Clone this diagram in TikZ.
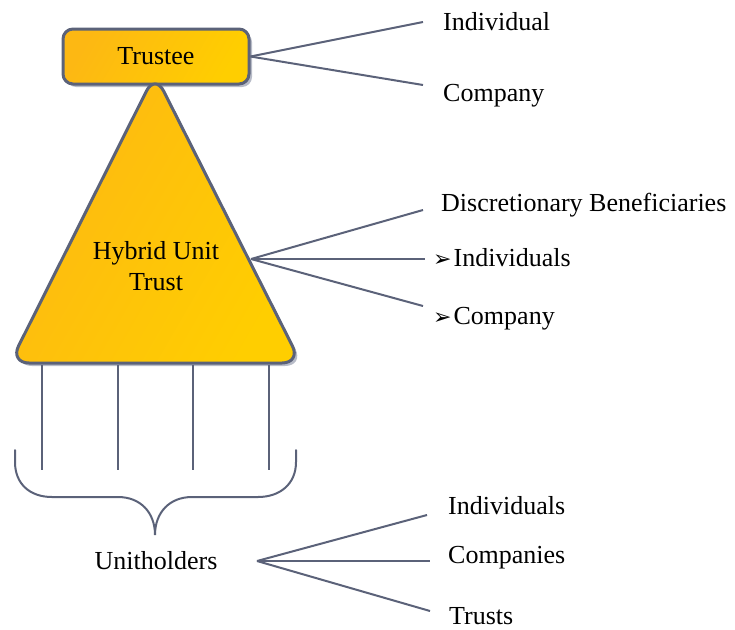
\documentclass[tikz,border=0pt]{standalone}
\usepackage{fontspec}
\setmainfont{Liberation Serif}
\newfontfamily\labelfont{Liberation Serif}
\newfontfamily\symfont{DejaVu Sans}
\usetikzlibrary{shadows}
\definecolor{edge}{RGB}{91,98,121}
\definecolor{goldA}{RGB}{253,184,19}
\definecolor{goldB}{RGB}{255,206,0}
\definecolor{shade}{RGB}{184,188,200}
\newcommand{\pointer}{{\symfont\fontsize{22}{26}\selectfont ➢}\kern2pt}
\tikzset{
  shape line/.style={draw=edge, line width=3pt, line join=round},
  gold fill/.style={left color=goldA, right color=goldB, shading angle=60},
  soft shadow/.style={drop shadow={shadow xshift=3pt, shadow yshift=-3pt, fill=shade, opacity=1}},
  link/.style={draw=edge, line width=2pt},
  label text/.style={font=\labelfont\fontsize{26}{31}\selectfont, inner sep=0pt},
}
\begin{document}
\begin{tikzpicture}[x=1pt, y=-1pt]
\useasboundingbox (0,0) rectangle (735,629);

% trustee box
\node[shape line, gold fill, soft shadow, rounded corners=10pt,
      minimum width=186pt, minimum height=55pt, label text] (trustee) at (156,56.5) {Trustee};

% the trust itself (started mid-base so that every corner is rounded)
\path[shape line, gold fill, soft shadow, rounded corners=19pt]
  (155,363) -- (301,363) -- (155,74) -- (10,363) -- cycle;
\node[label text, align=center] (hybrid) at (156,266) {Hybrid Unit\\Trust};
\coordinate (tri right) at (251,259);

% trustee types
\node[label text, anchor=west] (individual) at (443,22) {Individual};
\node[label text, anchor=west] (company) at (443,96) {Company};
\coordinate (t1) at (423,22);
\coordinate (t2) at (423,85);
\draw[link] (trustee.east) -- (t1);
\draw[link] (trustee.east) -- (t2);

% beneficiaries
\node[label text, anchor=west] (discr) at (441,205) {Discretionary Beneficiaries};
\node[label text, anchor=west] (ben ind) at (433,258) {\pointer Individuals};
\node[label text, anchor=west] (ben co) at (433,319) {\pointer Company};
\coordinate (b1) at (423,210);
\coordinate (b2) at (425,259);
\coordinate (b3) at (423,306);
\draw[link] (tri right) -- (b1);
\draw[link] (tri right) -- (b2);
\draw[link] (tri right) -- (b3);

% unit stems
\foreach \x [count=\i] in {42,118,193,269} {
  \coordinate (top\i) at (\x,365);
  \coordinate (bot\i) at (\x,470);
  \draw[link] (top\i) -- (bot\i);
}

% brace
\coordinate (brace tip) at (155,535);
\draw[link, line cap=round]
  (15,450) -- (15,462) .. controls (15,484) and (30,497) .. (52,497)
  -- (118,497) .. controls (140,497) and (155,512) .. (brace tip)
  .. controls (155,512) and (170,497) .. (192,497)
  -- (258,497) .. controls (280,497) and (296,484) .. (296,462) -- (296,450);

% unitholders
\node[label text] (unith) at (156,561) {Unitholders};
\coordinate (u0) at (257,561);
\node[label text, anchor=west] (u ind) at (448,506) {Individuals};
\node[label text, anchor=west] (u co) at (448,558) {Companies};
\node[label text, anchor=west] (u tr) at (449,616) {Trusts};
\coordinate (u1) at (427,515);
\coordinate (u2) at (430,561);
\coordinate (u3) at (430,611);
\draw[link] (u0) -- (u1);
\draw[link] (u0) -- (u2);
\draw[link] (u0) -- (u3);
\end{tikzpicture}
\end{document}
